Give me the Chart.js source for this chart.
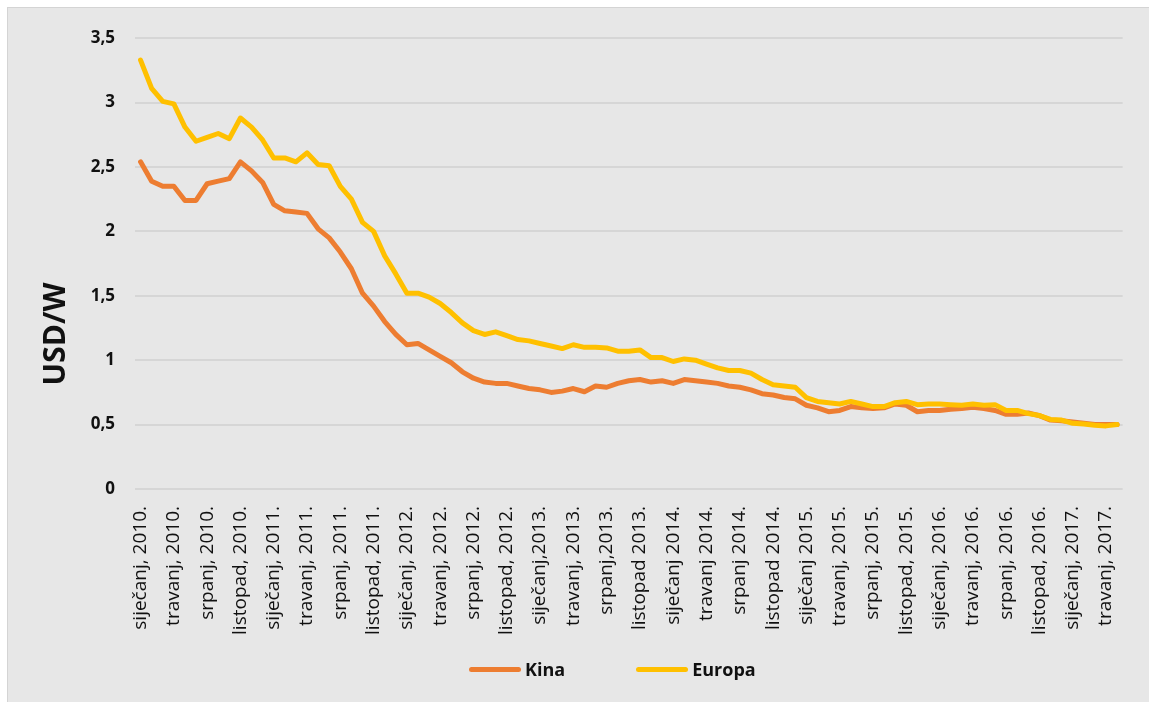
<!DOCTYPE html>
<html>
<head>
<meta charset="utf-8">
<script src="https://cdn.jsdelivr.net/npm/chart.js@4"></script>
<style>
  body { margin: 0; background: #ffffff; }
  #frame {
    position: absolute; left: 7px; top: 7px;
    width: 1142px; height: 695px;
    background: #e7e7e7;
    border-left: 1px solid #d4d4d4; border-top: 1px solid #d4d4d4;
  }
  #legend {
    position: absolute; left: 461px; top: 649px;
    display: flex; align-items: center;
    font-family: "Open Sans"; font-weight: bold; font-size: 18px; color: #111111;
  }
  .item { display: flex; align-items: center; margin-right: 71px; }
  .swatch { width: 52px; height: 5px; border-radius: 3px; margin-right: 4px; }
</style>
</head>
<body>
<div id="frame"><canvas id="myChart" width="1141" height="694"></canvas><div id="legend"></div></div>
<script>
// mjesecne cijene modula, sijecanj 2010. - svibanj 2017.
let kina = [
  2.54, 2.39, 2.35, 2.35, 2.24, 2.24, 2.37, 2.39, 2.41, 2.54, 2.47, 2.38, 2.21, 2.16, 2.15, 2.14, 2.02,
  1.95, 1.84, 1.71, 1.52, 1.42, 1.30, 1.20, 1.12, 1.13, 1.08, 1.03, 0.98, 0.91, 0.86, 0.83, 0.82,
  0.82, 0.80, 0.78, 0.77, 0.75, 0.76, 0.78, 0.755,
  0.80, 0.79, 0.82, 0.84, 0.85, 0.83, 0.84, 0.82, 0.85, 0.84, 0.83, 0.82, 0.80, 0.79, 0.77, 0.74,
  0.73, 0.71, 0.70, 0.65, 0.63, 0.60, 0.61, 0.64,
  0.63, 0.625, 0.63, 0.66, 0.65, 0.60, 0.61, 0.61, 0.62, 0.625, 0.635, 0.625, 0.61, 0.58, 0.58, 0.59,
  0.57, 0.535, 0.53, 0.52, 0.51, 0.50, 0.50, 0.50
];
let europa = [
  3.33, 3.11, 3.01, 2.99, 2.81, 2.70, 2.73, 2.76, 2.72, 2.88, 2.81, 2.71, 2.57, 2.57, 2.54, 2.61, 2.52,
  2.51, 2.35, 2.25, 2.07, 2.00, 1.81, 1.67, 1.52, 1.52, 1.49, 1.44, 1.37, 1.29, 1.23, 1.20, 1.22,
  1.19, 1.16, 1.15, 1.13, 1.11, 1.09, 1.12, 1.10,
  1.10, 1.095, 1.07, 1.07, 1.08, 1.02, 1.02, 0.99, 1.01, 1.00, 0.97, 0.94, 0.92, 0.92, 0.90, 0.85,
  0.81, 0.80, 0.79, 0.71, 0.68, 0.67, 0.66, 0.68,
  0.66, 0.64, 0.64, 0.67, 0.68, 0.655, 0.66, 0.66, 0.655, 0.65, 0.66, 0.65, 0.655, 0.61, 0.61, 0.585,
  0.57, 0.54, 0.535, 0.51, 0.505, 0.495, 0.49, 0.50
];
// oznaka svaki treci mjesec
let tickLabels = [
  'siječanj, 2010.', 'travanj, 2010.', 'srpanj, 2010.', 'listopad, 2010.',
  'siječanj, 2011.', 'travanj, 2011.', 'srpanj, 2011.', 'listopad, 2011.',
  'siječanj, 2012.', 'travanj, 2012.', 'srpanj, 2012.', 'listopad, 2012.',
  'siječanj,2013.', 'travanj, 2013.', 'srpanj,2013.', 'listopad 2013.',
  'siječanj 2014.', 'travanj 2014.', 'srpanj 2014.', 'listopad 2014.',
  'siječanj 2015.', 'travanj, 2015.', 'srpanj, 2015.', 'listopad, 2015.',
  'siječanj, 2016.', 'travanj, 2016.', 'srpanj, 2016.', 'listopad, 2016.',
  'siječanj, 2017.', 'travanj, 2017.'
];
let seriesNames = ['Kina', 'Europa'];
let yTitle = 'USD/W';

let categories = kina.map(function(d, i) { return i % 3 === 0 ? tickLabels[i / 3] : ''; });

// naslov osi y (u originalu nije centriran na os)
let yTitlePlugin = {
  id: 'yTitlePlugin',
  afterDraw: function(chart) {
    let ctx = chart.ctx;
    ctx.save();
    ctx.translate(chart.chartArea.left - 79, 326);
    ctx.rotate(-Math.PI / 2);
    ctx.font = 'bold 30px "Open Sans"';
    ctx.fillStyle = '#111111';
    ctx.textAlign = 'center';
    ctx.textBaseline = 'middle';
    ctx.fillText(yTitle, 0, 0);
    ctx.restore();
  }
};

// legenda kao html, iz podataka grafa
let htmlLegend = {
  id: 'htmlLegend',
  afterUpdate: function(chart) {
    let box = document.getElementById('legend');
    box.innerHTML = '';
    chart.options.plugins.legend.labels.generateLabels(chart)
      .sort(function(a, b) { return a.datasetIndex - b.datasetIndex; })
      .forEach(function(item) {
        let el = document.createElement('div');
        el.className = 'item';
        let sw = document.createElement('span');
        sw.className = 'swatch';
        sw.style.background = item.strokeStyle;
        let txt = document.createElement('span');
        txt.textContent = item.text;
        el.appendChild(sw);
        el.appendChild(txt);
        box.appendChild(el);
      });
  }
};

let myChart = document.getElementById('myChart').getContext('2d');
let priceChart = new Chart(myChart, {
  type: 'line',
  data: {
    labels: categories,
    datasets: [
      {
        label: seriesNames[0],
        data: kina,
        borderColor: '#ED7D31',
        backgroundColor: '#ED7D31',
        borderWidth: 5,
        borderCapStyle: 'round',
        borderJoinStyle: 'round',
        pointRadius: 0,
        order: 1
      },
      {
        label: seriesNames[1],
        data: europa,
        borderColor: '#FFC000',
        backgroundColor: '#FFC000',
        borderWidth: 5,
        borderCapStyle: 'round',
        borderJoinStyle: 'round',
        pointRadius: 0,
        order: 0
      }
    ]
  },
  options: {
    responsive: false,
    animation: false,
    layout: { padding: { left: 0, right: 16, top: 25, bottom: 53 } },
    plugins: {
      tooltip: { enabled: false },
      legend: { display: false }
    },
    scales: {
      x: {
        offset: true,
        grid: { display: false },
        border: { display: false },
        afterFit: function(scale) { scale.height = 160; },
        ticks: {
          autoSkip: false,
          minRotation: 90,
          maxRotation: 90,
          padding: 9,
          color: '#111111',
          font: { family: '"Open Sans"', size: 19 }
        }
      },
      y: {
        min: 0,
        max: 3.5,
        afterFit: function(scale) { scale.width = 127; },
        grid: { color: '#d6d6d6', lineWidth: 2, drawTicks: false },
        border: { display: false },
        ticks: {
          stepSize: 0.5,
          padding: 20,
          color: '#111111',
          font: { family: '"Open Sans"', size: 17, weight: 'bold' },
          callback: function(v) { return String(v).replace('.', ','); }
        }
      }
    }
  },
  plugins: [yTitlePlugin, htmlLegend]
});
</script>
</body>
</html>
